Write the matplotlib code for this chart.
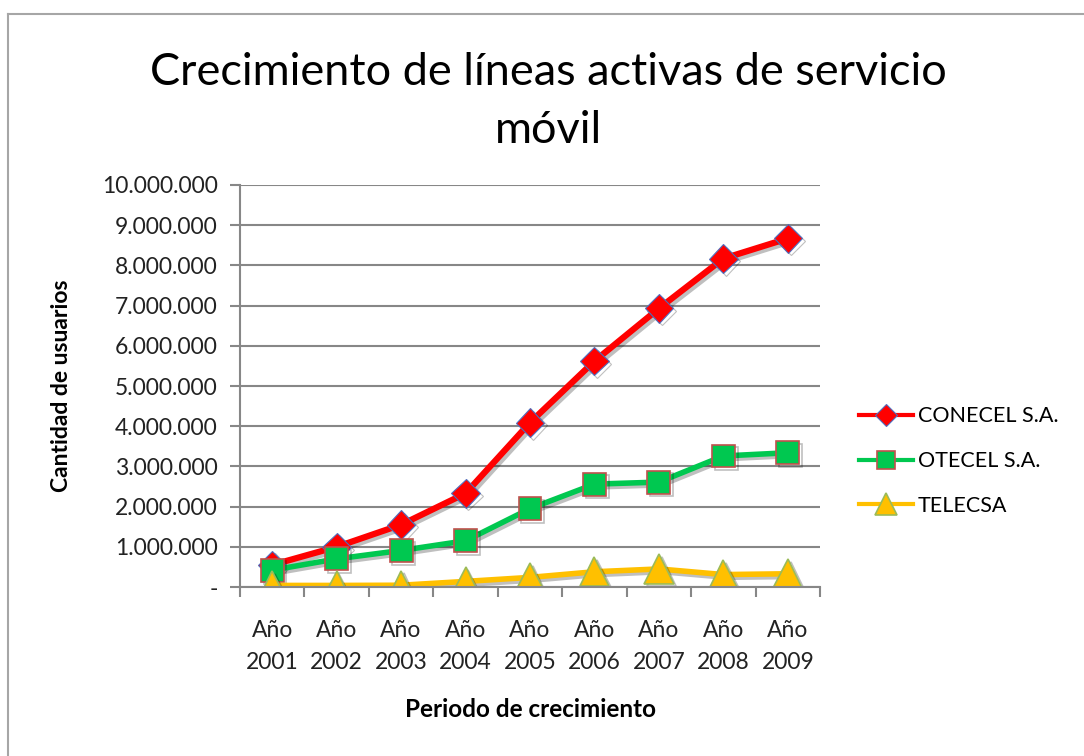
import matplotlib.pyplot as plt
from matplotlib.ticker import FuncFormatter, FixedLocator
from matplotlib.lines import Line2D
import matplotlib.patheffects as pe

anios = ['Año\n2001', 'Año\n2002', 'Año\n2003', 'Año\n2004', 'Año\n2005',
         'Año\n2006', 'Año\n2007', 'Año\n2008', 'Año\n2009']
conecel = [550000, 1000000, 1550000, 2330000, 4090000, 5620000, 6930000, 8170000, 8670000]
otecel = [420000, 700000, 910000, 1150000, 1950000, 2560000, 2610000, 3260000, 3340000]
telecsa = [40000, 40000, 45000, 140000, 240000, 380000, 450000, 310000, 330000]

plt.rcParams['font.family'] = ['Lato', 'DejaVu Sans']

fig = plt.figure(figsize=(10.84, 7.56), dpi=100)
ax = fig.add_axes([0.2214, 0.2235, 0.5351, 0.5318])

x = list(range(len(anios)))
sombra = [pe.SimpleLineShadow(offset=(2, -2), shadow_color='black', alpha=0.25), pe.Normal()]

ax.plot(x, conecel, color='#FF0000', lw=4.5, marker='D', ms=14.5,
        mfc='#FF0000', mec='#4F6FBF', mew=0.8, label='CONECEL S.A.', path_effects=sombra)
ax.plot(x, otecel, color='#00C850', lw=4, marker='s', ms=16.5,
        mfc='#00C850', mec='#C0504D', mew=1.2, label='OTECEL S.A.', path_effects=sombra)
ax.plot(x, telecsa, color='#FFC000', lw=4, marker='^', ms=21,
        mfc='#FFC000', mec='#9BBB59', mew=1.2, label='TELECSA', path_effects=sombra)

ax.set_xlim(-0.5, 8.5)
ax.set_ylim(0, 10000000)
ax.set_yticks(range(0, 10000001, 1000000))
ax.yaxis.set_major_formatter(FuncFormatter(
    lambda v, p: '-' if v == 0 else f'{int(v):,}'.replace(',', '.')))
ax.set_xticks(x)
ax.set_xticklabels(anios)
ax.xaxis.set_minor_locator(FixedLocator([i - 0.5 for i in range(len(anios) + 1)]))
ax.tick_params(axis='x', which='major', length=0, pad=24, labelsize=16.5, colors='#222222')
ax.tick_params(axis='x', which='minor', length=7, width=1.5, color='#878787', direction='out')
ax.tick_params(axis='y', length=7, width=1.5, color='#878787', labelsize=16.5, pad=9,
               colors='#222222')
for lab in ax.get_xticklabels():
    lab.set_linespacing(1.6)

ax.grid(axis='y', color='#878787', lw=1.5)
ax.set_axisbelow(True)
for s in ['top', 'right']:
    ax.spines[s].set_visible(False)
for s in ['left', 'bottom']:
    ax.spines[s].set_color('#878787')
    ax.spines[s].set_linewidth(1.5)

ax.set_xlabel('Periodo de crecimiento', fontsize=17.5, fontweight='bold', labelpad=18)
fig.text(0.057, 0.49, 'Cantidad de usuarios', rotation=90, ha='center', va='center',
         fontsize=16.5, fontweight='bold')

fig.text(0.506, 0.866, 'Crecimiento de líneas activas de servicio\nmóvil', ha='center',
         va='center', fontsize=32.5, linespacing=1.5)

leg = ax.legend(loc='center left', bbox_to_anchor=(0.775, 0.39), bbox_transform=fig.transFigure,
                frameon=False, fontsize=15.5, handlelength=2.5, handletextpad=0.2,
                labelspacing=1.15, markerscale=0.75)
for ln in leg.get_lines():
    ln.set_linewidth(3)
    ln.set_path_effects([])

# marco del gráfico
fig.add_artist(Line2D([8 / 1084, 8 / 1084], [0, 1 - 14 / 756], color='#A6A6A6', lw=1.5,
                      transform=fig.transFigure))
fig.add_artist(Line2D([8 / 1084, 1], [1 - 14 / 756, 1 - 14 / 756], color='#A6A6A6', lw=1.5,
                      transform=fig.transFigure))

fig.savefig('out.png', dpi=100)
